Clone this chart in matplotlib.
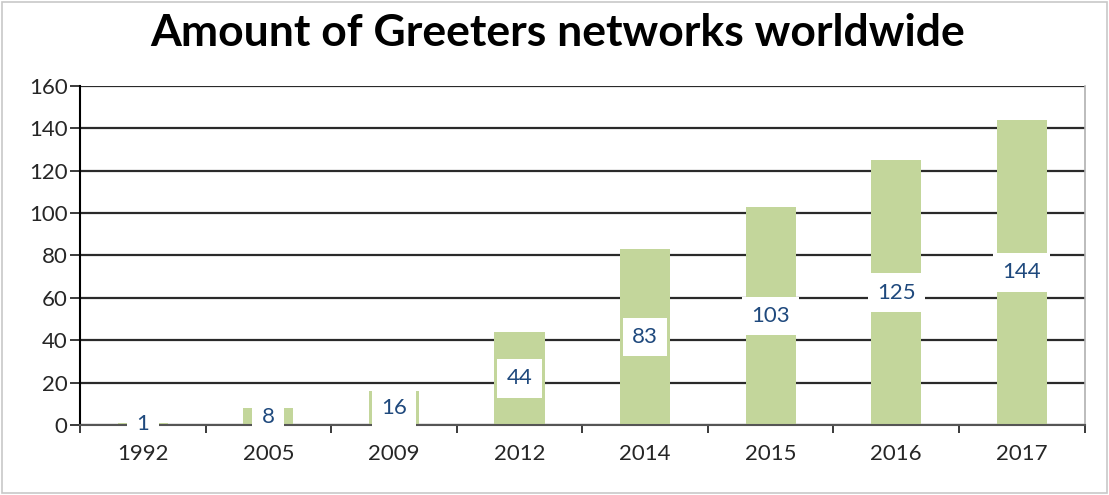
import numpy as np
import matplotlib
matplotlib.use('Agg')
import matplotlib.pyplot as plt
from matplotlib.patches import Rectangle

## data
years = ['1992', '2005', '2009', '2012', '2014', '2015', '2016', '2017']
networks = [1, 8, 16, 44, 83, 103, 125, 144]
yticks = [0, 20, 40, 60, 80, 100, 120, 140, 160]

plt.rcParams['font.family'] = ['Lato', 'DejaVu Sans']

fig = plt.figure(figsize=(11.09, 4.95), dpi=100)
ax = fig.add_axes([0.0721, 0.1414, 0.9059, 0.6849])

## light frame round the whole chart
fig.patches.append(Rectangle((0.002, 0.004), 0.996, 0.992, transform=fig.transFigure,
                             fill=False, edgecolor='#c8c8c8', linewidth=1.2))

x = np.arange(len(years))
ax.bar(x, networks, width=0.4, color='#C3D69B', zorder=2)

for xi, v in zip(x, networks):
    ax.text(xi, v / 2, str(v), ha='center', va='center', fontsize=16, color='#1F497D',
            zorder=4, bbox=dict(boxstyle='square,pad=0.42', facecolor='white', edgecolor='none'))

ax.set_xlim(-0.5, len(years) - 0.5)
ax.set_ylim(0, 160)
ax.set_yticks(yticks)
ax.yaxis.grid(True, color='#2a2a2a', linewidth=1.6, zorder=1)
ax.set_axisbelow(True)

## category labels in the middle, ticks on the boundaries
ax.set_xticks(x)
ax.set_xticklabels(years, fontsize=16, color='#262626')
ax.tick_params(axis='x', which='major', length=0, pad=14)
ax.set_xticks(np.arange(-0.5, len(years)), minor=True)
ax.tick_params(axis='x', which='minor', length=6, width=1.4, color='#3a3a3a', direction='out')
ax.tick_params(axis='y', length=7, width=1.4, color='#3a3a3a', labelsize=16,
               labelcolor='#262626', pad=2)

ax.spines['left'].set_color('black')
ax.spines['left'].set_linewidth(1.5)
ax.spines['bottom'].set_color('#555555')
ax.spines['bottom'].set_linewidth(1.5)
ax.spines['top'].set_visible(False)
ax.spines['right'].set_color('#b0b0b0')
ax.spines['right'].set_linewidth(1.2)

fig.text(0.503, 0.933, 'Amount of Greeters networks worldwide', ha='center', va='center',
         fontsize=32, fontweight='bold', color='black')

fig.savefig('out.png', dpi=100)
